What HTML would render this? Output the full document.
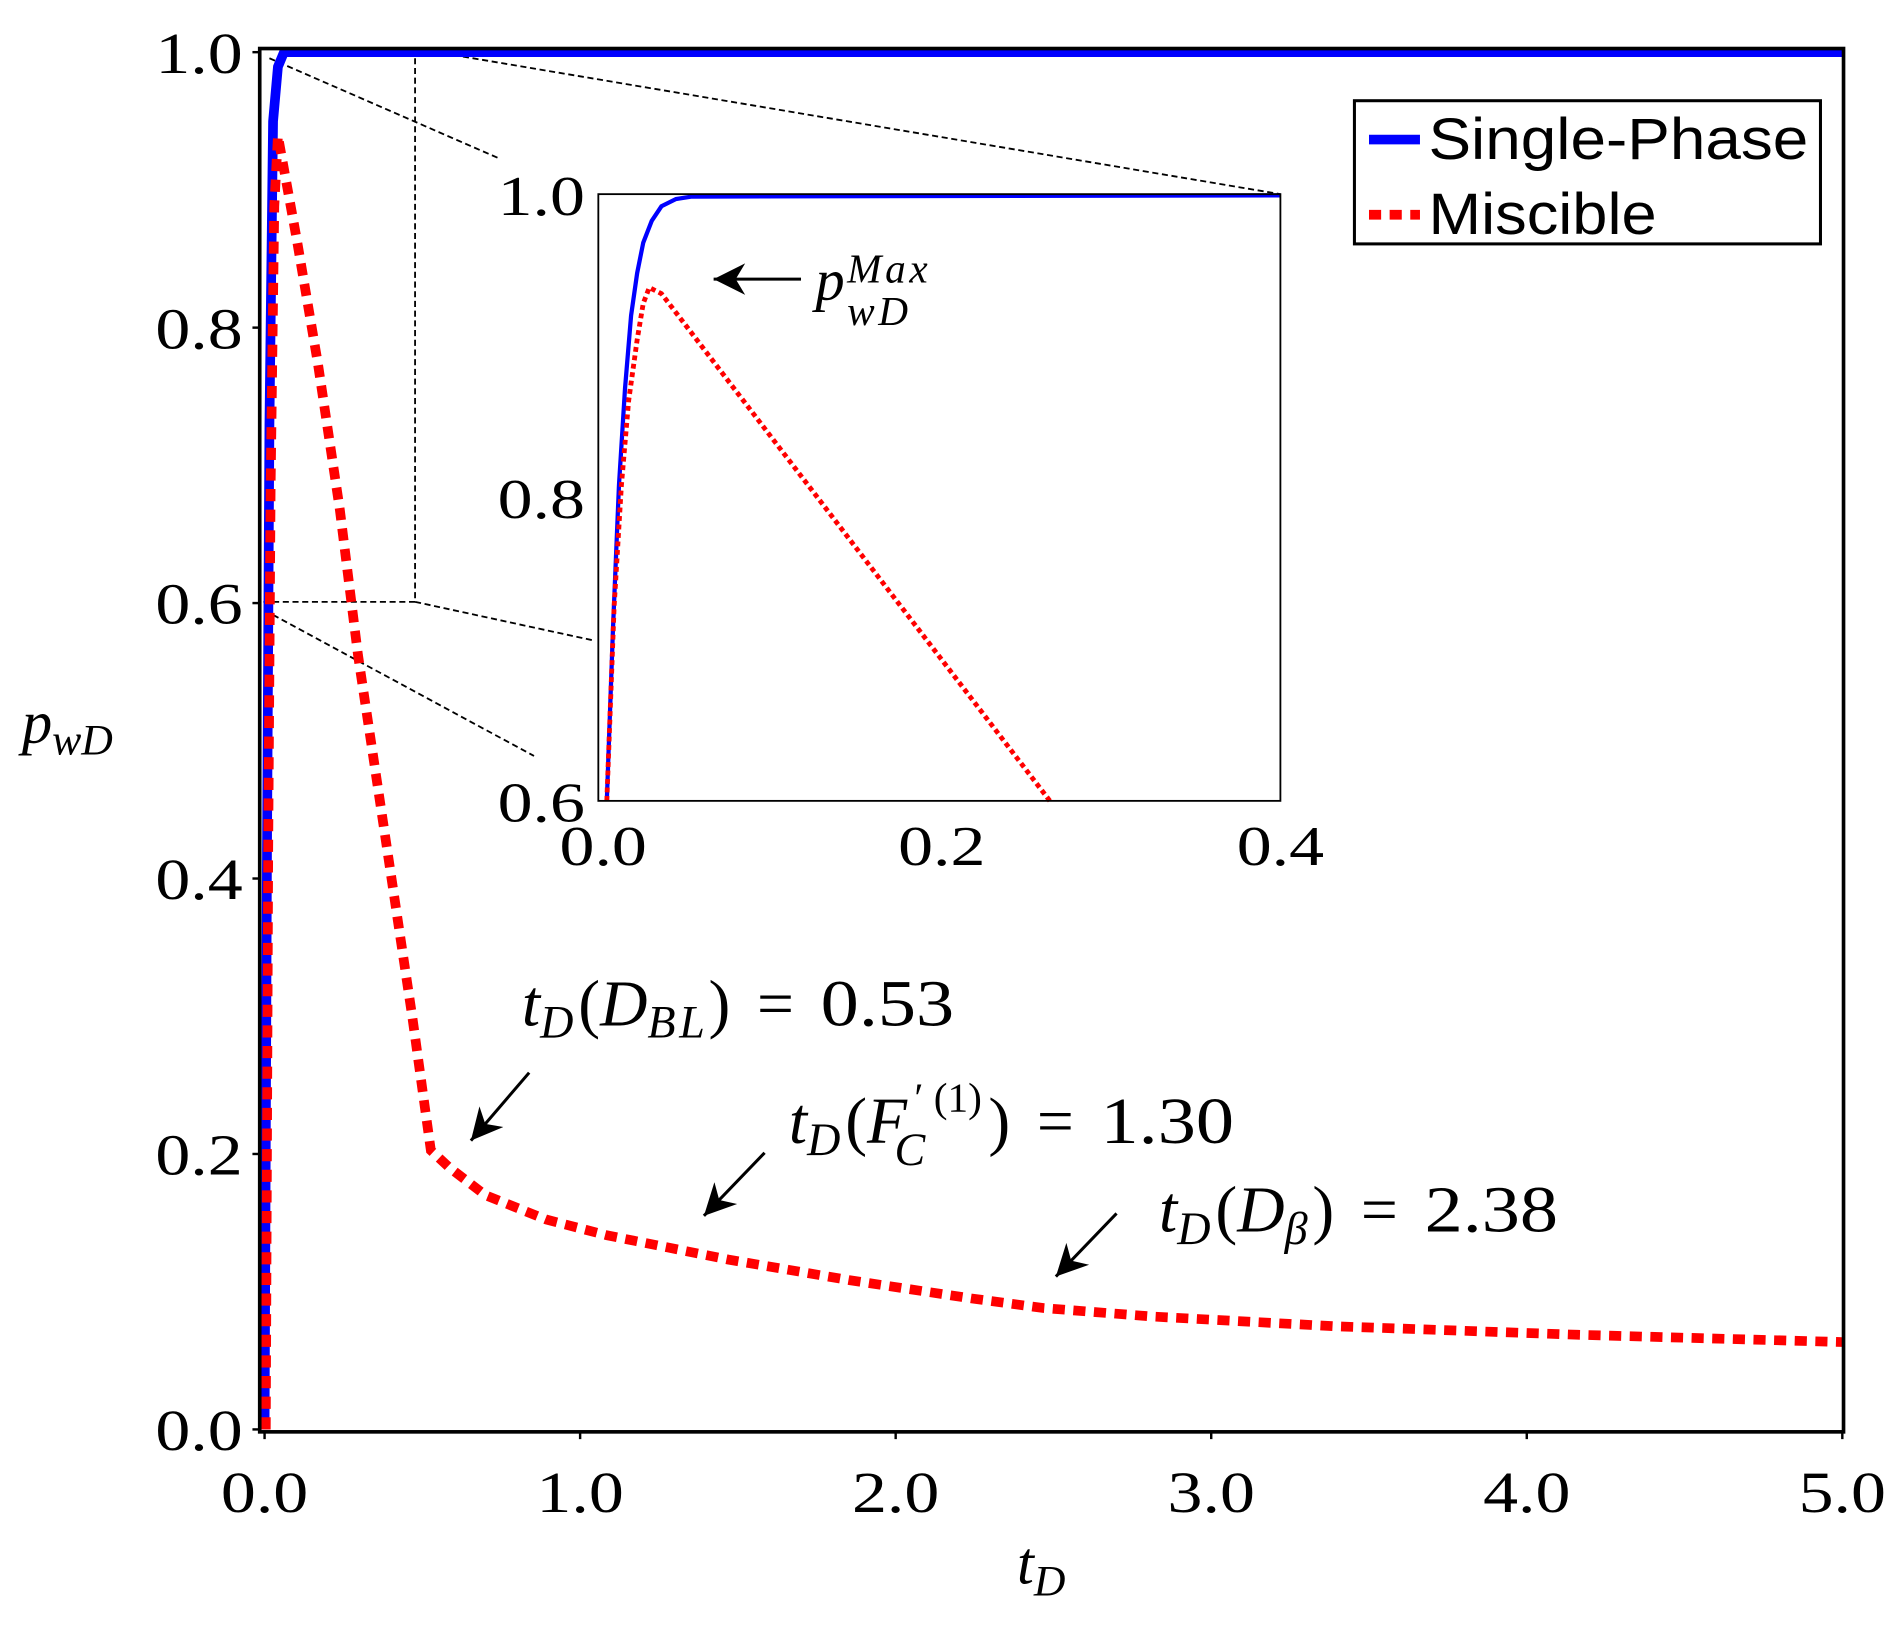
<!DOCTYPE html>
<html><head><style>body{margin:0;background:#fff}svg{display:block}</style></head><body>
<svg width="1903" height="1626" viewBox="0 0 1568 1340" preserveAspectRatio="none" xmlns="http://www.w3.org/2000/svg" font-family="Liberation Serif, serif">
<defs>
<marker id="a2" viewBox="0 0 10 10" refX="10" refY="5" markerWidth="30" markerHeight="26" orient="auto" markerUnits="userSpaceOnUse"><path d="M0,0L10,5L0,10L3,5z" fill="#000"/></marker></defs>
<rect width="1568" height="1340" fill="#fff"/>
<g stroke="#000" stroke-width="1.5" stroke-dasharray="5,3" fill="none">
<rect x="214" y="40" width="128" height="456"/>
<line x1="342" y1="40" x2="1055" y2="160"/>
<line x1="222" y1="48" x2="410" y2="130"/>
<line x1="342" y1="496" x2="490" y2="528"/>
<line x1="218" y1="503" x2="440" y2="623"/>
</g>
<polyline fill="none" stroke="#0000ff" stroke-width="8" points="218,1178 220,700 222,350 225,100 229,55 234,43 1518,43"/>
<polyline fill="none" stroke="#ff0000" stroke-width="8" stroke-dasharray="10,7" points="219,1178 221,700 223,400 226,170 229,112 245,200 262,300 280,420 295,540 310,640 325,740 340,840 355,948 370,962 400,985 450,1005 500,1018 550,1028 600,1038 700,1055 800,1070 860,1078 950,1085 1100,1093 1300,1100 1518,1106"/>
<rect x="214" y="40" width="1305" height="1140" fill="none" stroke="#000" stroke-width="3"/>
<g stroke="#000" stroke-width="2">
<line x1="218" y1="1180" x2="218" y2="1186"/><line x1="478" y1="1180" x2="478" y2="1186"/><line x1="738" y1="1180" x2="738" y2="1186"/><line x1="998" y1="1180" x2="998" y2="1186"/><line x1="1258" y1="1180" x2="1258" y2="1186"/><line x1="1518" y1="1180" x2="1518" y2="1186"/>
<line x1="208" y1="43" x2="214" y2="43"/><line x1="208" y1="270" x2="214" y2="270"/><line x1="208" y1="497" x2="214" y2="497"/><line x1="208" y1="724" x2="214" y2="724"/><line x1="208" y1="951" x2="214" y2="951"/><line x1="208" y1="1178" x2="214" y2="1178"/>
</g>
<g font-size="48" text-anchor="middle">
<text x="218" y="1246" textLength="72" lengthAdjust="spacingAndGlyphs">0.0</text><text x="478" y="1246" textLength="72" lengthAdjust="spacingAndGlyphs">1.0</text><text x="738" y="1246" textLength="72" lengthAdjust="spacingAndGlyphs">2.0</text><text x="998" y="1246" textLength="72" lengthAdjust="spacingAndGlyphs">3.0</text><text x="1258" y="1246" textLength="72" lengthAdjust="spacingAndGlyphs">4.0</text><text x="1518" y="1246" textLength="72" lengthAdjust="spacingAndGlyphs">5.0</text>
</g>
<g font-size="48" text-anchor="end">
<text x="200" y="60" textLength="72" lengthAdjust="spacingAndGlyphs">1.0</text><text x="200" y="287" textLength="72" lengthAdjust="spacingAndGlyphs">0.8</text><text x="200" y="514" textLength="72" lengthAdjust="spacingAndGlyphs">0.6</text><text x="200" y="741" textLength="72" lengthAdjust="spacingAndGlyphs">0.4</text><text x="200" y="968" textLength="72" lengthAdjust="spacingAndGlyphs">0.2</text><text x="200" y="1195" textLength="72" lengthAdjust="spacingAndGlyphs">0.0</text>
</g>
<text x="838" y="1305" font-size="50" font-style="italic">t<tspan font-size="36" dy="10">D</tspan></text>
<text x="18" y="612" font-size="50" font-style="italic">p<tspan font-size="36" dy="10">wD</tspan></text>
<rect x="493" y="160" width="562" height="500" fill="#fff"/>
<polyline fill="none" stroke="#0000ff" stroke-width="3.5" points="500,660 505,520 510,400 515,320 520,260 525,225 530,200 537,182 545,170 557,164 570,162 1055,161"/>
<polyline fill="none" stroke="#ff0000" stroke-width="4" stroke-dasharray="4,3" points="500,660 506,500 512,400 518,330 525,280 530,250 535,237 545,242 865,660"/>
<rect x="493" y="160" width="562" height="500" fill="none" stroke="#000" stroke-width="1.5"/>
<g font-size="46" text-anchor="end"><text x="482" y="177" textLength="72" lengthAdjust="spacingAndGlyphs">1.0</text><text x="482" y="427" textLength="72" lengthAdjust="spacingAndGlyphs">0.8</text><text x="482" y="677" textLength="72" lengthAdjust="spacingAndGlyphs">0.6</text></g>
<g font-size="46" text-anchor="middle"><text x="497" y="713" textLength="72" lengthAdjust="spacingAndGlyphs">0.0</text><text x="776" y="713" textLength="72" lengthAdjust="spacingAndGlyphs">0.2</text><text x="1055" y="713" textLength="72" lengthAdjust="spacingAndGlyphs">0.4</text></g>
<line x1="660" y1="230" x2="588" y2="230" stroke="#000" stroke-width="2.5" marker-end="url(#a2)"/>
<text x="672" y="247" font-size="48" font-style="italic">p</text>
<text x="698" y="233" font-size="34" font-style="italic" letter-spacing="3">Max</text>
<text x="698" y="268" font-size="34" font-style="italic" letter-spacing="3">wD</text>
<rect x="1116" y="83" width="384" height="118" fill="#fff" stroke="#000" stroke-width="2.5"/>
<line x1="1128" y1="115" x2="1170" y2="115" stroke="#0000ff" stroke-width="8"/>
<line x1="1128" y1="177" x2="1170" y2="177" stroke="#ff0000" stroke-width="8" stroke-dasharray="10,7"/>
<g font-family="Liberation Sans, sans-serif" font-size="48"><text x="1177" y="131" textLength="313" lengthAdjust="spacingAndGlyphs">Single-Phase</text><text x="1177" y="193" textLength="188" lengthAdjust="spacingAndGlyphs">Miscible</text></g>
<g stroke="#000" stroke-width="2.5"><line x1="436" y1="884" x2="388" y2="940" marker-end="url(#a2)"/><line x1="630" y1="950" x2="580" y2="1002" marker-end="url(#a2)"/><line x1="920" y1="1000" x2="870" y2="1052" marker-end="url(#a2)"/></g>
<g font-size="54">
<text x="430" y="845"><tspan font-style="italic">t</tspan><tspan font-size="38" font-style="italic" dy="10">D</tspan><tspan dy="-10" dx="4">(</tspan><tspan font-style="italic">D</tspan><tspan font-size="38" font-style="italic" dy="10" letter-spacing="3">BL</tspan><tspan dy="-10">)</tspan><tspan dx="22">=</tspan><tspan dx="22" textLength="110" lengthAdjust="spacingAndGlyphs">0.53</tspan></text>
<text x="650" y="942"><tspan font-style="italic">t</tspan><tspan font-size="38" font-style="italic" dy="10">D</tspan><tspan dy="-10" dx="4">(</tspan><tspan font-style="italic">F</tspan><tspan font-size="34" dy="-26" dx="6">′ (1)</tspan><tspan font-size="38" font-style="italic" dx="-72" dy="44">C</tspan><tspan dx="52" dy="-18">)</tspan><tspan dx="22">=</tspan><tspan dx="22" textLength="110" lengthAdjust="spacingAndGlyphs">1.30</tspan></text>
<text x="955" y="1015"><tspan font-style="italic">t</tspan><tspan font-size="38" font-style="italic" dy="10">D</tspan><tspan dy="-10" dx="4">(</tspan><tspan font-style="italic">D</tspan><tspan font-size="38" font-style="italic" dy="10">β</tspan><tspan dy="-10" dx="4">)</tspan><tspan dx="22">=</tspan><tspan dx="22" textLength="110" lengthAdjust="spacingAndGlyphs">2.38</tspan></text>
</g>
</svg>
</body></html>
